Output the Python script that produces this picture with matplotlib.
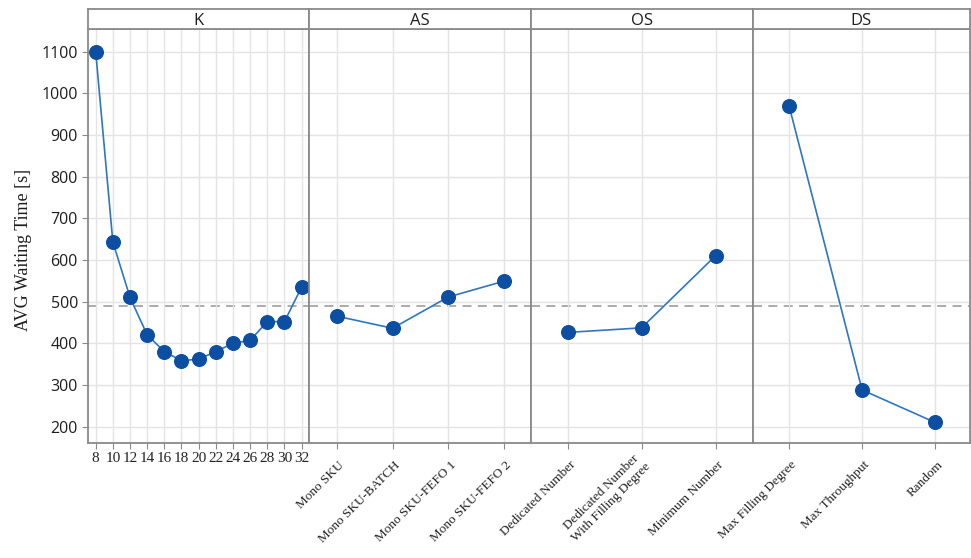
import matplotlib
matplotlib.use("Agg")
import matplotlib.pyplot as plt

# main effects of each factor on the average waiting time
k_values = [8, 10, 12, 14, 16, 18, 20, 22, 24, 26, 28, 30, 32]
k_wait = [1100, 643, 510, 420, 380, 358, 362, 380, 400, 407, 452, 452, 535]

as_labels = ["Mono SKU", "Mono SKU-BATCH", "Mono SKU-FEFO 1", "Mono SKU-FEFO 2"]
as_wait = [465, 436, 511, 549]

os_labels = ["Dedicated Number", "Dedicated Number\nWith Filling Degree", "Minimum Number"]
os_wait = [426, 437, 610]

ds_labels = ["Max Filling Degree", "Max Throughput", "Random"]
ds_wait = [970, 288, 210]

overall_mean = 490
panel_titles = ["K", "AS", "OS", "DS"]

W, H = 971, 558
fig = plt.figure(figsize=(W / 100, H / 100), dpi=100)

edges = [88.3, 308.5, 530.6, 752.5, 969.5]
y_top, y_bot, strip_top = 29, 443.3, 9

line_col = "#2f76c2"
dot_col = "#0b4ea2"
spine_col = "#8a8a8a"
grid_col = "#e4e4e4"
serif = "Liberation Serif"
sans = "Open Sans"

panels = [
    (k_values, k_wait, None, (7.14, 32.8)),
    (list(range(len(as_labels))), as_wait, as_labels, (-0.507, 3.477)),
    (list(range(len(os_labels))), os_wait, os_labels, (-0.5, 2.5)),
    (list(range(len(ds_labels))), ds_wait, ds_labels, (-0.5, 2.47)),
]

px = 0.72  # one pixel in points at 100 dpi

for i, (xs, ys, labels, xlim) in enumerate(panels):
    x0, x1 = edges[i], edges[i + 1]
    ax = fig.add_axes([x0 / W, 1 - y_bot / H, (x1 - x0) / W, (y_bot - y_top) / H])
    ax.set_xlim(*xlim)
    ax.set_ylim(160, 1154)
    ax.set_yticks(range(200, 1101, 100))
    ax.grid(True, color=grid_col, lw=1.0, zorder=0)
    ax.axhline(overall_mean, color="#a5a5a5", lw=1.3, ls=(0, (5, 3.5)), zorder=1)
    ax.plot(xs, ys, color=line_col, lw=1.2, zorder=2)
    ax.plot(xs, ys, "o", ms=9.8, color=dot_col, zorder=3)

    for s in ax.spines.values():
        s.set_color(spine_col)
        s.set_linewidth(1.3)

    ax.tick_params(axis="x", length=4, color=spine_col)
    ax.set_xticks(xs)
    if labels is None:
        ax.set_xticklabels([str(v) for v in xs], fontfamily=serif, fontsize=11,
                           color="#222222")
        ax.tick_params(axis="x", pad=2)
    else:
        # slanted category names hung below each tick
        ax.set_xticklabels([])
        for x, lab in zip(xs, labels):
            ax.annotate(lab, xy=(x, 0), xycoords=ax.get_xaxis_transform(),
                        xytext=(8 * px, -22 * px), textcoords="offset points",
                        rotation=45, ha="right", va="baseline",
                        rotation_mode="anchor", multialignment="center",
                        fontfamily=serif, fontsize=9.5, color="#222222",
                        annotation_clip=False)

    if i == 0:
        ax.tick_params(axis="y", length=4, color=spine_col, labelsize=11.5)
        for t in ax.get_yticklabels():
            t.set_fontfamily(sans)
            t.set_color("#1e1e1e")
    else:
        ax.tick_params(axis="y", length=0, labelleft=False)

    # facet header strip
    hx = fig.add_axes([x0 / W, 1 - y_top / H, (x1 - x0) / W, (y_top - strip_top) / H])
    hx.set_xticks([])
    hx.set_yticks([])
    for s in hx.spines.values():
        s.set_color(spine_col)
        s.set_linewidth(1.3)
    hx.text(0.5, 0.42, panel_titles[i], ha="center", va="center",
            fontfamily=sans, fontsize=12, color="#1e1e1e", transform=hx.transAxes)

fig.text(23 / W, 1 - 250 / H, "AVG Waiting Time [s]", rotation=90, ha="center",
         va="center", fontfamily=serif, fontsize=13, color="#1e1e1e")

fig.savefig("out.png", dpi=100)
